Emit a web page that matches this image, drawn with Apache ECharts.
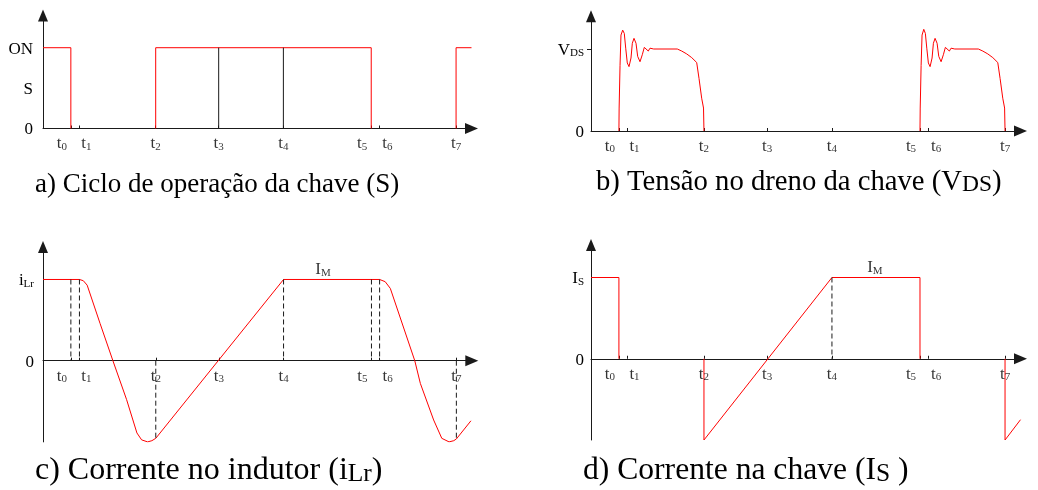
<!DOCTYPE html>
<html>
<head>
<meta charset="utf-8">
<script src="https://cdn.jsdelivr.net/npm/echarts@6/dist/echarts.min.js"></script>
<style>
  html, body { margin: 0; padding: 0; background: #ffffff; }
  #chart { width: 1038px; height: 490px; }
</style>
</head>
<body>
<div id="chart"></div>
<script>
// Switching instants t0..t7 on a shared time base (0-100)
const tickTimes = [6.5, 8.5, 26.3, 41.0, 56.1, 76.6, 78.5, 96.4];
const tickNames = ['0', '1', '2', '3', '4', '5', '6', '7'];
const GAP = ['-', '-'];

// a) switch state S (1 = ON)
const switchState = [[0, 1], [6.5, 1], [6.5, 0], GAP, [26.3, 0], [26.3, 1], [76.6, 1], [76.6, 0], GAP, [96.4, 0], [96.4, 1], [100, 1]];
const switchMarkers = [[41.0, 0], [41.0, 1], GAP, [56.1, 0], [56.1, 1]];

// b) drain-source voltage, normalised to VDS
const vdsPulse1 = [[6.5, 0], [6.55, 0.28], [6.76, 0.8], [6.98, 1.17], [7.38, 1.23], [7.75, 1.19], [8.08, 1.01], [8.45, 0.83],
  [8.85, 0.785], [9.31, 0.89], [9.62, 1.07], [10.01, 1.13], [10.48, 1.07], [10.87, 0.91], [11.41, 0.845], [11.94, 0.93],
  [12.41, 1.02], [12.81, 1.03], [13.34, 0.975], [13.74, 1.01], [14.2, 0.99], [14.6, 1.0], [20.09, 1.0], [21.12, 0.975],
  [22.28, 0.94], [23.45, 0.895], [24.61, 0.835], [25.15, 0.64], [25.77, 0.4], [26.2, 0.28], [26.3, 0]];
const vdsPulse2 = [[76.6, 0], [76.65, 0.28], [76.86, 0.8], [77.08, 1.17], [77.48, 1.24], [77.85, 1.19], [78.18, 1.01], [78.55, 0.83],
  [78.95, 0.785], [79.41, 0.89], [79.72, 1.07], [80.11, 1.13], [80.58, 1.07], [80.97, 0.91], [81.51, 0.845], [82.04, 0.93],
  [82.51, 1.02], [82.91, 1.03], [83.44, 0.975], [83.84, 1.01], [84.3, 0.99], [84.7, 1.0], [90.19, 1.0], [91.22, 0.975],
  [92.38, 0.94], [93.55, 0.895], [94.71, 0.835], [95.25, 0.64], [95.87, 0.4], [96.3, 0.28], [96.4, 0]];

// c) resonant inductor current, normalised to IM
const iLr = [[0, 1], [8.5, 1], [9.4, 0.985], [10.3, 0.93], [13.3, 0.46], [16.3, 0], [19.5, -0.48], [21.9, -0.89],
  [23.0, -0.975], [24.4, -1.0], [25.4, -0.985], [26.3, -0.956], [56.1, 1], [78.5, 1], [79.8, 0.973], [81.0, 0.89],
  [86.7, 0], [88.0, -0.28], [91.1, -0.73], [93.0, -0.956], [94.7, -1.0], [95.8, -0.985], [96.4, -0.964], [99.8, -0.74]];
const iLrGuides = [[6.5, 1], [6.5, 0], GAP, [8.5, 1], [8.5, 0], GAP, [26.3, 0], [26.3, -0.956], GAP,
  [56.1, 1], [56.1, 0], GAP, [76.6, 1], [76.6, 0], GAP, [78.5, 1], [78.5, 0], GAP, [96.4, 0], [96.4, -0.964]];

// d) switch current, normalised to IM
const iS = [[0, 1], [6.5, 1], [6.5, 0], GAP, [26.3, 0], [26.3, -1], [56.1, 1], [76.6, 1], [76.6, 0], GAP,
  [96.4, 0], [96.4, -1], [100, -0.75]];
const iSGuides = [[56.1, 1], [56.1, 0]];

// I_M annotation anchors
const imLabelC = [[65.3, 1]];
const imLabelD = [[66.1, 1]];

const SERIF = "'Liberation Serif', 'DejaVu Serif', serif";
const RED = '#ff0000';
const AXIS = '#1a1a1a';
// horizontal nudge of the t-labels so the close pairs (t0/t1, t5/t6) stay apart
const tickLabelShift = [-9, 7, 0, 0, 0, -9, 8, 0];

function tok(size, lh, extra) {
  return Object.assign({ fontFamily: SERIF, fontSize: size, fontWeight: 'normal', color: '#000',
    lineHeight: lh, verticalAlign: 'bottom' }, extra || {});
}

const rich = {
  b: tok(17, 20),
  s: tok(11, 15)
};

function xAxisFor(gridIndex) {
  return {
    type: 'value', gridIndex: gridIndex, min: 0, max: 100,
    axisLine: { onZero: true, symbol: ['none', 'triangle'], symbolSize: [11, 13], lineStyle: { color: AXIS, width: 1 } },
    axisTick: { show: true, inside: true, length: 3, customValues: tickTimes, lineStyle: { color: AXIS } },
    axisLabel: { show: false },
    splitLine: { show: false }
  };
}

function yAxisFor(gridIndex, min, values, names, margin, tick) {
  return {
    type: 'value', gridIndex: gridIndex, min: min, max: 1.4,
    axisLine: { onZero: false, symbol: ['none', 'triangle'], symbolSize: [10, 12], lineStyle: { color: AXIS, width: 1 } },
    axisTick: tick ? { show: true, length: 4, customValues: [1], lineStyle: { color: AXIS } } : { show: false },
    axisLabel: {
      customValues: values, margin: margin, rich: rich, showMinLabel: true, showMaxLabel: true,
      formatter: function (v) { const i = values.indexOf(v); return i < 0 ? '' : names[i]; }
    },
    splitLine: { show: false }
  };
}

// t0..t7 labels hung under the time axis
function tickLabels(idx) {
  return {
    type: 'scatter', xAxisIndex: idx, yAxisIndex: idx, symbolSize: 0, silent: true, z: 5,
    data: tickTimes.map(function (t, i) { return { value: [t, 0], label: { offset: [tickLabelShift[i], 0] } }; }),
    label: {
      show: true, position: 'bottom', distance: 4, rich: rich,
      formatter: function (p) { return '{b|t}{s|' + tickNames[p.dataIndex] + '}'; }
    }
  };
}

function trace(idx, data, color, dashed) {
  return {
    type: 'line', xAxisIndex: idx, yAxisIndex: idx, data: data,
    showSymbol: false, symbol: 'none', connectNulls: false, silent: true,
    lineStyle: { color: color, width: 1, type: dashed ? [5, 3] : 'solid' }
  };
}

function imLabel(idx, data) {
  return {
    type: 'scatter', xAxisIndex: idx, yAxisIndex: idx, data: data, symbolSize: 0, silent: true,
    label: { show: true, position: 'top', distance: 1, formatter: '{b|I}{s|M}', rich: rich }
  };
}

function caption(text, left, top, main, sub, lh, subLh) {
  return { text: text, left: left, top: top, padding: 0,
    textStyle: { fontWeight: 'normal', fontFamily: SERIF,
      rich: { m: tok(main, lh), s: tok(sub, subLh) } } };
}

const chart = echarts.init(document.getElementById('chart'), null, { renderer: 'canvas' });
chart.setOption({
  animation: false,
  backgroundColor: '#ffffff',
  title: [
    caption('{m|a) Ciclo de operação da chave (S)}', 35, 166, 27, 22, 32, 19),
    caption('{m|b) Tensão no dreno da chave (V}{s|DS}{m|)}', 596, 165, 28.7, 23.5, 32, 19),
    caption('{m|c) Corrente no indutor (i}{s|Lr}{m|)}', 35, 451, 32, 25.5, 36, 20),
    caption('{m|d) Corrente na chave (I}{s|S}{m| )}', 583, 451, 31.6, 25.5, 36, 20)
  ],
  grid: [
    { left: 43, top: 15.4, width: 428.5, height: 113.1 },
    { left: 591, top: 16.2, width: 429.5, height: 114.8 },
    { left: 43, top: 247, width: 428.8, height: 194.9 },
    { left: 591, top: 245, width: 429.5, height: 195 }
  ],
  xAxis: [xAxisFor(0), xAxisFor(1), xAxisFor(2), xAxisFor(3)],
  yAxis: [
    yAxisFor(0, 0, [0, 0.5, 1], ['{b|0}', '{b|S}', '{b|ON}'], 10, false),
    yAxisFor(1, 0, [0, 1], ['{b|0}', '{b|V}{s|DS}'], 7, true),
    yAxisFor(2, -1, [0, 1], ['{b|0}', '{b|i}{s|Lr}'], 9, false),
    yAxisFor(3, -1, [0, 1], ['{b|0}', '{b|I}{s|S}'], 7, false)
  ],
  series: [
    trace(0, switchState, RED),
    trace(0, switchMarkers, AXIS),
    tickLabels(0),
    trace(1, vdsPulse1, RED),
    trace(1, vdsPulse2, RED),
    tickLabels(1),
    trace(2, iLr, RED),
    trace(2, iLrGuides, AXIS, true),
    imLabel(2, imLabelC),
    tickLabels(2),
    trace(3, iS, RED),
    trace(3, iSGuides, AXIS, true),
    imLabel(3, imLabelD),
    tickLabels(3)
  ]
});
</script>
</body>
</html>
